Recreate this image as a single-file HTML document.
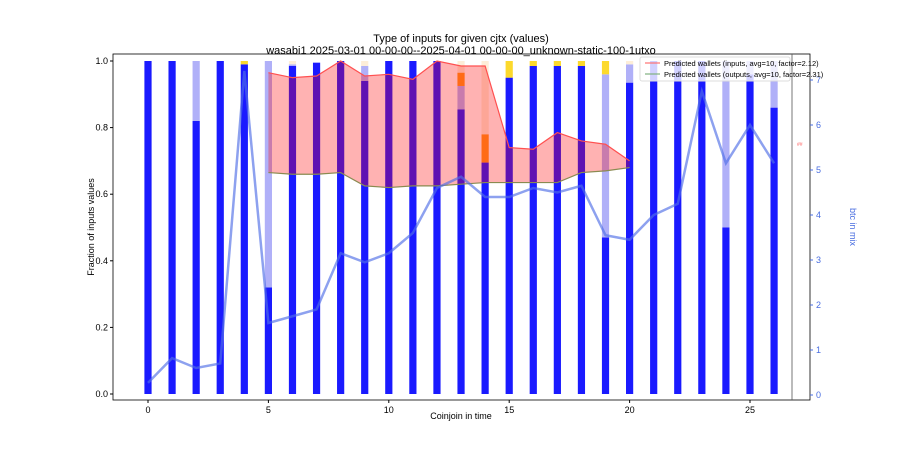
<!DOCTYPE html>
<html><head><meta charset="utf-8"><style>body{margin:0;background:#fff}svg{font-family:"Liberation Sans","DejaVu Sans",sans-serif}</style></head>
<body>
<svg id="c" width="900" height="450" viewBox="0 0 900 450">
<rect width="900" height="450" fill="#fff"/>
<text x="461" y="42" text-anchor="middle" font-size="11">Type of inputs for given cjtx (values)</text>
<text x="461" y="54" text-anchor="middle" font-size="11">wasabi1 2025-03-01 00-00-00--2025-04-01 00-00-00_unknown-static-100-1utxo</text>
<g id="plot"></g>
<text x="461" y="419" text-anchor="middle" font-size="9">Coinjoin in time</text>
<text x="94" y="227" text-anchor="middle" font-size="9" transform="rotate(-90 94 227)">Fraction of inputs values</text>
<text x="850" y="227" text-anchor="middle" font-size="9" fill="#4a6ee0" transform="rotate(90 850 227)">btc in mix</text>
</svg>
<script>
const idx=[0,1,2,3,4,5,6,7,8,9,10,11,12,13,14,15,16,17,18,19,20,21,22,23,24,25,26];
const blueVals=[1,1,0.82,1,0.99,0.32,0.985,0.995,1,0.94,1,1,1,0.855,0.695,0.95,0.985,0.985,0.985,0.47,0.935,1,1,1,0.5,0.96,0.86];
const lightVals=[0,0,0.18,0,0,0.68,0.005,0,0,0.045,0,0,0,0.07,0,0,0,0,0,0.49,0.055,0,0,0,0.5,0.04,0.14];
const orangeVals=[0,0,0,0,0,0,0,0,0,0,0,0,0,0.04,0.085,0,0,0,0,0,0,0,0,0,0,0,0];
const yellowVals=[0,0,0,0,0.01,0,0,0,0,0,0,0,0,0,0,0.05,0.015,0.015,0.015,0.04,0,0,0,0,0,0,0];
const tanVals=[0,0,0,0,0,0,0.01,0,0,0.015,0,0,0,0.035,0.22,0,0,0,0,0,0.01,0,0,0,0,0,0];
const predIdx=[5,6,7,8,9,10,11,12,13,14,15,16,17,18,19,20];
const predIn=[0.965,0.95,0.955,1.0,0.955,0.96,0.945,1.0,0.985,0.985,0.74,0.735,0.785,0.76,0.75,0.70];
const predOut=[0.665,0.66,0.66,0.665,0.625,0.62,0.625,0.625,0.63,0.635,0.635,0.635,0.635,0.665,0.67,0.68];
const btc=[0.27,0.82,0.6,0.7,7.2,1.6,1.75,1.9,3.15,2.95,3.15,3.6,4.6,4.85,4.4,4.4,4.6,4.5,4.65,3.55,3.45,4.0,4.25,6.75,5.15,6.0,5.15];
const xTicks=[0,5,10,15,20,25];
const yTicks=[0,0.2,0.4,0.6,0.8,1.0];
const y2Ticks=[0,1,2,3,4,5,6,7];
const L=113,R=810,T=54,B=400;
const X=v=>148+v*24.08, Y=v=>394-v*333, Y2=v=>395-v*45;
const NS="http://www.w3.org/2000/svg", g=document.getElementById('plot');
function mk(t,a){const e=document.createElementNS(NS,t);for(const k in a)e.setAttribute(k,a[k]);g.appendChild(e);return e;}
const bw=7.2;
idx.forEach((d,i)=>{
  let base=0;
  const segs=[[blueVals[i],'#1a1aff','bar-blue'],[lightVals[i],'#b0b0f8','bar-other'],[orangeVals[i],'#ff9a20','bar-orange'],[yellowVals[i],'#fcd92c','bar-yellow'],[tanVals[i],'#fdeed8','bar-tan']];
  segs.forEach(s=>{if(s[0]<=0)return;const r=mk('rect',{x:X(d)-bw/2,y:Y(base+s[0]),width:bw,height:Y(base)-Y(base+s[0]),fill:s[1]});
    
    base+=s[0];});
});
let pts=predIdx.map((d,i)=>X(d)+','+Y(predIn[i])).join(' ')+' '+predIdx.slice().reverse().map((d,j)=>{const i=predIdx.length-1-j;return X(d)+','+Y(predOut[i]);}).join(' ');
let f=mk('polygon',{points:pts,fill:'rgba(255,0,0,0.3)'});


let li=mk('polyline',{points:predIdx.map((d,i)=>X(d)+','+Y(predIn[i])).join(' '),fill:'none',stroke:'#ff5050',"stroke-width":1.2});


let lo=mk('polyline',{points:predIdx.map((d,i)=>X(d)+','+Y(predOut[i])).join(' '),fill:'none',stroke:'#8a8a50',"stroke-width":1.2});


let bl=mk('polyline',{points:idx.map((d,i)=>X(d)+','+Y2(btc[i])).join(' '),fill:'none',stroke:'rgba(80,110,230,0.65)',"stroke-width":2.5});


mk('rect',{x:L,y:T,width:R-L,height:B-T,fill:'none',stroke:'#000','stroke-width':0.8});
mk('line',{x1:792,y1:T,x2:792,y2:B,stroke:'#555','stroke-width':0.8});
mk('text',{x:797,y:146,'font-size':5,fill:'#f66'}).textContent='##';
xTicks.forEach(v=>{mk('line',{x1:X(v),y1:B,x2:X(v),y2:B+3,stroke:'#000'});const t=mk('text',{x:X(v),y:B+13,'text-anchor':'middle','font-size':9});t.textContent=v;
  
  });
yTicks.forEach(v=>{mk('line',{x1:L-3,y1:Y(v),x2:L,y2:Y(v),stroke:'#000'});const t=mk('text',{x:L-5,y:Y(v)+3,'text-anchor':'end','font-size':9});t.textContent=v.toFixed(1);
  
  });
y2Ticks.forEach(v=>{mk('line',{x1:R,y1:Y2(v),x2:R+3,y2:Y2(v),stroke:'#4a6ee0'});const t=mk('text',{x:R+6,y:Y2(v)+3,'font-size':9,fill:'#4a6ee0'});t.textContent=v;
  
  });
const lg=mk('rect',{x:640,y:57,width:150,height:24,fill:'rgba(255,255,255,0.8)',stroke:'#ddd',rx:2});


mk('line',{x1:645,y1:63,x2:660,y2:63,stroke:'#ff7070','stroke-width':1.2});
mk('line',{x1:645,y1:74,x2:660,y2:74,stroke:'#80b080','stroke-width':1.2});
const t1=mk('text',{x:664,y:66,'font-size':7.5});t1.textContent='Predicted wallets (inputs, avg=10, factor=2.12)';


const t2=mk('text',{x:664,y:77,'font-size':7.5});t2.textContent='Predicted wallets (outputs, avg=10, factor=2.31)';


</script>
</body></html>
